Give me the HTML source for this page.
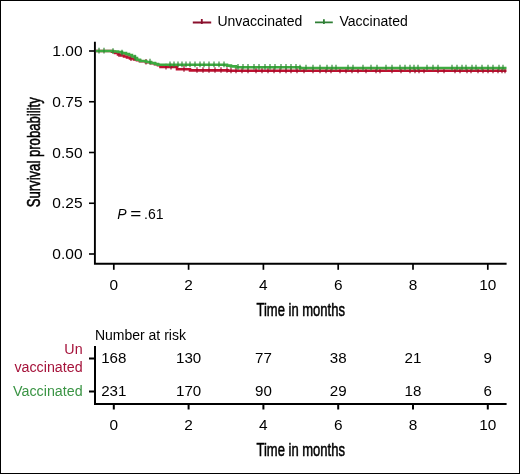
<!DOCTYPE html>
<html><head><meta charset="utf-8"><style>
html,body{margin:0;padding:0;background:#fff;}
body{width:520px;height:474px;overflow:hidden;font-family:"Liberation Sans", sans-serif;}
svg{display:block;will-change:transform;}
</style></head><body>
<svg width="520" height="474" viewBox="0 0 520 474">
<rect x="0" y="0" width="520" height="474" fill="#fff"/>
<g stroke="#000" stroke-width="2" fill="none">
<path d="M94.9 41.8 V263.8 H506.6" stroke-width="1.9"/>
<path d="M89 51.00 H95" stroke-width="1.6"/>
<path d="M89 101.75 H95" stroke-width="1.6"/>
<path d="M89 152.50 H95" stroke-width="1.6"/>
<path d="M89 203.25 H95" stroke-width="1.6"/>
<path d="M89 254.00 H95" stroke-width="1.6"/>
<path d="M113.8 264 V269.8" stroke-width="1.7"/>
<path d="M188.6 264 V269.8" stroke-width="1.7"/>
<path d="M263.4 264 V269.8" stroke-width="1.7"/>
<path d="M338.2 264 V269.8" stroke-width="1.7"/>
<path d="M413.0 264 V269.8" stroke-width="1.7"/>
<path d="M487.8 264 V269.8" stroke-width="1.7"/>
</g>
<path d="M96.0 51.00 H112.0 V51.80 H115.0 V53.00 H118.0 V54.50 H121.0 V55.50 H124.0 V56.50 H127.0 V57.50 H130.0 V58.50 H134.0 V59.50 H137.0 V60.30 H140.0 V61.20 H146.0 V62.20 H151.0 V63.20 H155.0 V64.20 H158.0 V65.20 H160.5 V67.00 H177.0 V69.30 H190.0 V70.40 H228.0 V70.80 H506.5" stroke="#BE1030" stroke-width="2.6" fill="none"/>
<g stroke="#9A0F2A" stroke-width="1.15"><path d="M119.0 51.3 V56.9" /><path d="M131.0 55.3 V60.9" /><path d="M146.0 59.0 V64.6" /><path d="M166.0 63.8 V69.4" /><path d="M171.0 63.8 V69.4" /><path d="M184.0 66.1 V71.7" /><path d="M197.0 67.2 V72.8" /><path d="M203.0 67.2 V72.8" /><path d="M209.0 67.2 V72.8" /><path d="M215.0 67.2 V72.8" /><path d="M221.0 67.2 V72.8" /><path d="M227.0 67.2 V72.8" /><path d="M231.0 67.6 V73.2" /><path d="M236.0 67.6 V73.2" /><path d="M242.0 67.6 V73.2" /><path d="M248.0 67.6 V73.2" /><path d="M256.0 67.6 V73.2" /><path d="M262.0 67.6 V73.2" /><path d="M268.0 67.6 V73.2" /><path d="M274.0 67.6 V73.2" /><path d="M280.0 67.6 V73.2" /><path d="M286.0 67.6 V73.2" /><path d="M291.0 67.6 V73.2" /><path d="M297.0 67.6 V73.2" /><path d="M304.0 67.6 V73.2" /><path d="M313.0 67.6 V73.2" /><path d="M320.0 67.6 V73.2" /><path d="M326.0 67.6 V73.2" /><path d="M331.0 67.6 V73.2" /><path d="M340.0 67.6 V73.2" /><path d="M346.0 67.6 V73.2" /><path d="M352.0 67.6 V73.2" /><path d="M358.0 67.6 V73.2" /><path d="M366.0 67.6 V73.2" /><path d="M376.0 67.6 V73.2" /><path d="M380.0 67.6 V73.2" /><path d="M392.0 67.6 V73.2" /><path d="M401.0 67.6 V73.2" /><path d="M410.0 67.6 V73.2" /><path d="M415.0 67.6 V73.2" /><path d="M419.0 67.6 V73.2" /><path d="M424.0 67.6 V73.2" /><path d="M438.0 67.6 V73.2" /><path d="M444.0 67.6 V73.2" /><path d="M455.0 67.6 V73.2" /><path d="M460.0 67.6 V73.2" /><path d="M467.0 67.6 V73.2" /><path d="M471.0 67.6 V73.2" /><path d="M478.0 67.6 V73.2" /><path d="M483.0 67.6 V73.2" /><path d="M488.0 67.6 V73.2" /><path d="M493.0 67.6 V73.2" /><path d="M498.0 67.6 V73.2" /><path d="M502.0 67.6 V73.2" /><path d="M505.0 67.6 V73.2" /></g>
<path d="M96.0 51.00 H113.0 V51.50 H118.0 V52.00 H122.0 V53.00 H126.0 V54.00 H129.0 V55.00 H132.0 V56.50 H135.0 V58.00 H137.0 V59.80 H140.0 V61.00 H146.0 V62.00 H151.0 V63.00 H155.0 V64.00 H158.0 V64.80 H227.0 V65.60 H231.0 V66.40 H236.0 V67.30 H300.0 V68.00 H506.5" stroke="#3DAA40" stroke-width="2.6" fill="none"/>
<g stroke="#2F8A34" stroke-width="1.15"><path d="M99.0 47.8 V53.4" /><path d="M104.0 47.8 V53.4" /><path d="M113.0 48.3 V53.9" /><path d="M122.0 49.8 V55.4" /><path d="M135.0 54.8 V60.4" /><path d="M150.0 58.8 V64.4" /><path d="M170.0 61.6 V67.2" /><path d="M174.0 61.6 V67.2" /><path d="M178.0 61.6 V67.2" /><path d="M182.0 61.6 V67.2" /><path d="M186.0 61.6 V67.2" /><path d="M190.0 61.6 V67.2" /><path d="M195.0 61.6 V67.2" /><path d="M200.0 61.6 V67.2" /><path d="M204.0 61.6 V67.2" /><path d="M209.0 61.6 V67.2" /><path d="M214.0 61.6 V67.2" /><path d="M219.0 61.6 V67.2" /><path d="M224.0 61.6 V67.2" /><path d="M238.0 64.1 V69.7" /><path d="M243.0 64.1 V69.7" /><path d="M248.0 64.1 V69.7" /><path d="M254.0 64.1 V69.7" /><path d="M259.0 64.1 V69.7" /><path d="M265.0 64.1 V69.7" /><path d="M270.0 64.1 V69.7" /><path d="M275.0 64.1 V69.7" /><path d="M281.0 64.1 V69.7" /><path d="M286.0 64.1 V69.7" /><path d="M291.0 64.1 V69.7" /><path d="M296.0 64.1 V69.7" /><path d="M300.0 64.8 V70.4" /><path d="M306.0 64.8 V70.4" /><path d="M313.0 64.8 V70.4" /><path d="M320.0 64.8 V70.4" /><path d="M327.0 64.8 V70.4" /><path d="M332.0 64.8 V70.4" /><path d="M336.0 64.8 V70.4" /><path d="M348.0 64.8 V70.4" /><path d="M353.0 64.8 V70.4" /><path d="M363.0 64.8 V70.4" /><path d="M371.0 64.8 V70.4" /><path d="M377.0 64.8 V70.4" /><path d="M386.0 64.8 V70.4" /><path d="M392.0 64.8 V70.4" /><path d="M400.0 64.8 V70.4" /><path d="M405.0 64.8 V70.4" /><path d="M410.0 64.8 V70.4" /><path d="M414.0 64.8 V70.4" /><path d="M418.0 64.8 V70.4" /><path d="M427.0 64.8 V70.4" /><path d="M433.0 64.8 V70.4" /><path d="M438.0 64.8 V70.4" /><path d="M452.0 64.8 V70.4" /><path d="M457.0 64.8 V70.4" /><path d="M462.0 64.8 V70.4" /><path d="M466.0 64.8 V70.4" /><path d="M472.0 64.8 V70.4" /><path d="M476.0 64.8 V70.4" /><path d="M482.0 64.8 V70.4" /><path d="M488.0 64.8 V70.4" /><path d="M493.0 64.8 V70.4" /><path d="M499.0 64.8 V70.4" /><path d="M503.0 64.8 V70.4" /></g>
<g font-family='"Liberation Sans", sans-serif' font-size="14" fill="#000" text-anchor="end">
<text transform="translate(82.6 56.20) scale(1.11 1)">1.00</text>
<text transform="translate(82.6 106.95) scale(1.11 1)">0.75</text>
<text transform="translate(82.6 157.70) scale(1.11 1)">0.50</text>
<text transform="translate(82.6 208.45) scale(1.11 1)">0.25</text>
<text transform="translate(82.6 259.20) scale(1.11 1)">0.00</text>
</g>
<g font-family='"Liberation Sans", sans-serif' font-size="14" fill="#000" text-anchor="middle">
<text transform="translate(113.8 289.7) scale(1.1 1)">0</text>
<text transform="translate(188.6 289.7) scale(1.1 1)">2</text>
<text transform="translate(263.4 289.7) scale(1.1 1)">4</text>
<text transform="translate(338.2 289.7) scale(1.1 1)">6</text>
<text transform="translate(413.0 289.7) scale(1.1 1)">8</text>
<text transform="translate(487.8 289.7) scale(1.1 1)">10</text>
</g>
<text font-family='"Liberation Sans", sans-serif' font-size="18.6" stroke="#000" stroke-width="0.55" text-anchor="middle" transform="translate(300.7 315.7) scale(0.70 1)">Time in months</text>
<text font-family='"Liberation Sans", sans-serif' font-size="18.6" stroke="#000" stroke-width="0.55" text-anchor="middle" transform="translate(39.8 152.3) rotate(-90) scale(0.706 1)">Survival probability</text>
<g font-family='"Liberation Sans", sans-serif' font-size="14"><text x="117.3" y="218.5" font-style="italic">P</text><text text-anchor="middle" transform="translate(135.85 218.5) scale(1.35 1)">=</text><text x="144" y="218.5">.61</text></g>
<path d="M192.8 22.5 H211.2 M201.8 19 V24" stroke="#8A0F2C" stroke-width="1.8"/>
<path d="M315 22.4 H332.8 M323.9 19.2 V24" stroke="#2F7F35" stroke-width="1.8"/>
<text font-family='"Liberation Sans", sans-serif' font-size="14" x="217.4" y="26">Unvaccinated</text>
<text font-family='"Liberation Sans", sans-serif' font-size="14" x="339.5" y="26">Vaccinated</text>
<text font-family='"Liberation Sans", sans-serif' font-size="14" x="94.9" y="340.2">Number at risk</text>
<g stroke="#000" stroke-width="2" fill="none">
<path d="M95 346 V404 H506.6"/>
<path d="M89 358.4 H95 M89 391.5 H95"/>
<path d="M113.8 404 V409.5"/>
<path d="M188.6 404 V409.5"/>
<path d="M263.4 404 V409.5"/>
<path d="M338.2 404 V409.5"/>
<path d="M413.0 404 V409.5"/>
<path d="M487.8 404 V409.5"/>
</g>
<g font-family='"Liberation Sans", sans-serif' font-size="14" fill="#000" text-anchor="middle">
<text transform="translate(113.8 363.2) scale(1.08 1)">168</text>
<text transform="translate(113.8 396.4) scale(1.08 1)">231</text>
<text transform="translate(113.8 430.2) scale(1.1 1)">0</text>
<text transform="translate(188.6 363.2) scale(1.08 1)">130</text>
<text transform="translate(188.6 396.4) scale(1.08 1)">170</text>
<text transform="translate(188.6 430.2) scale(1.1 1)">2</text>
<text transform="translate(263.4 363.2) scale(1.08 1)">77</text>
<text transform="translate(263.4 396.4) scale(1.08 1)">90</text>
<text transform="translate(263.4 430.2) scale(1.1 1)">4</text>
<text transform="translate(338.2 363.2) scale(1.08 1)">38</text>
<text transform="translate(338.2 396.4) scale(1.08 1)">29</text>
<text transform="translate(338.2 430.2) scale(1.1 1)">6</text>
<text transform="translate(413.0 363.2) scale(1.08 1)">21</text>
<text transform="translate(413.0 396.4) scale(1.08 1)">18</text>
<text transform="translate(413.0 430.2) scale(1.1 1)">8</text>
<text transform="translate(487.8 363.2) scale(1.08 1)">9</text>
<text transform="translate(487.8 396.4) scale(1.08 1)">6</text>
<text transform="translate(487.8 430.2) scale(1.1 1)">10</text>
</g>
<g font-family='"Liberation Sans", sans-serif' font-size="14" text-anchor="end">
<text transform="translate(82.6 354.2) scale(1.02 1)" fill="#A5123A">Un</text>
<text transform="translate(82.6 371.5) scale(1.02 1)" fill="#A5123A">vaccinated</text>
<text transform="translate(82.6 396.2) scale(1.02 1)" fill="#3A9444">Vaccinated</text>
</g>
<text font-family='"Liberation Sans", sans-serif' font-size="18.6" stroke="#000" stroke-width="0.55" text-anchor="middle" transform="translate(300.7 455.8) scale(0.70 1)">Time in months</text>
<rect x="0.5" y="0.5" width="519" height="473" fill="none" stroke="#000" stroke-width="1"/>
</svg>
</body></html>
